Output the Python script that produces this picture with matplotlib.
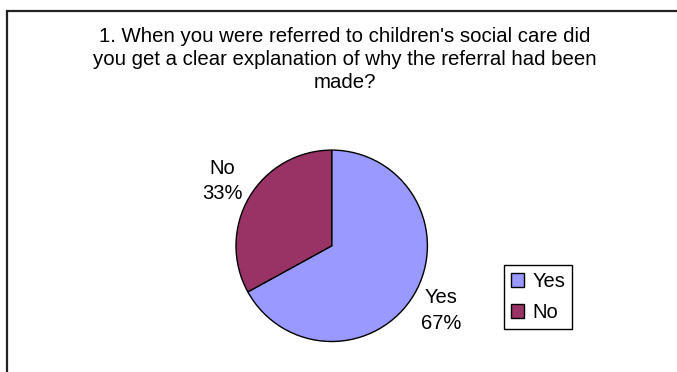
import matplotlib
matplotlib.use('Agg')
import matplotlib.pyplot as plt
from matplotlib.patches import Rectangle

plt.rcParams['font.family'] = ['Liberation Sans', 'DejaVu Sans']

title = ("1. When you were referred to children's social care did\n"
         "you get a clear explanation of why the referral had been\n"
         "made?")
answers = ['Yes', 'No']
percent = [67, 33]
colours = ['#9999FF', '#993366']

W, H = 677, 372
fig = plt.figure(figsize=(W / 100, H / 100), dpi=100)
fig.patch.set_facecolor('white')

# chart area border (runs off the right and bottom edges)
fig.add_artist(Rectangle((6.5 / W, -0.05), 1.2, (H - 10.5) / H + 0.05,
                         transform=fig.transFigure, fill=False,
                         edgecolor='#222222', linewidth=1.6))

fig.text(345 / W, 1 - 27 / H, title, ha='center', va='top',
         fontsize=14.7, linespacing=1.28)

# pie plot area: centre (331.7, 245.8) px, radius 95.7 px
cx, cy, r = 331.7, 245.8, 95.7
ax = fig.add_axes([(cx - r) / W, (H - cy - r) / H, 2 * r / W, 2 * r / H])
labels = [f'{a}\n{p}%' for a, p in zip(answers, percent)]
wedges, texts = ax.pie(percent, labels=labels, colors=colours,
                       startangle=90, counterclock=False,
                       labeldistance=1.33,
                       wedgeprops=dict(edgecolor='black', linewidth=1.0),
                       textprops=dict(fontsize=14.5))
for t in texts:
    t.set_horizontalalignment('center')
    t.set_verticalalignment('center')
    t.set_linespacing(1.42)
ax.set_xlim(-1, 1)
ax.set_ylim(-1, 1)

leg = fig.legend(wedges, answers, loc='upper left',
                 bbox_to_anchor=(504 / W, 1 - 265 / H),
                 bbox_transform=fig.transFigure, borderaxespad=0,
                 fontsize=14.5, frameon=True, fancybox=False,
                 edgecolor='black', framealpha=1, handlelength=0.65,
                 handleheight=0.65, handletextpad=0.4, borderpad=0.35,
                 labelspacing=0.6)
leg.get_frame().set_linewidth(1.0)

fig.savefig('out.png', dpi=100, facecolor='white')
